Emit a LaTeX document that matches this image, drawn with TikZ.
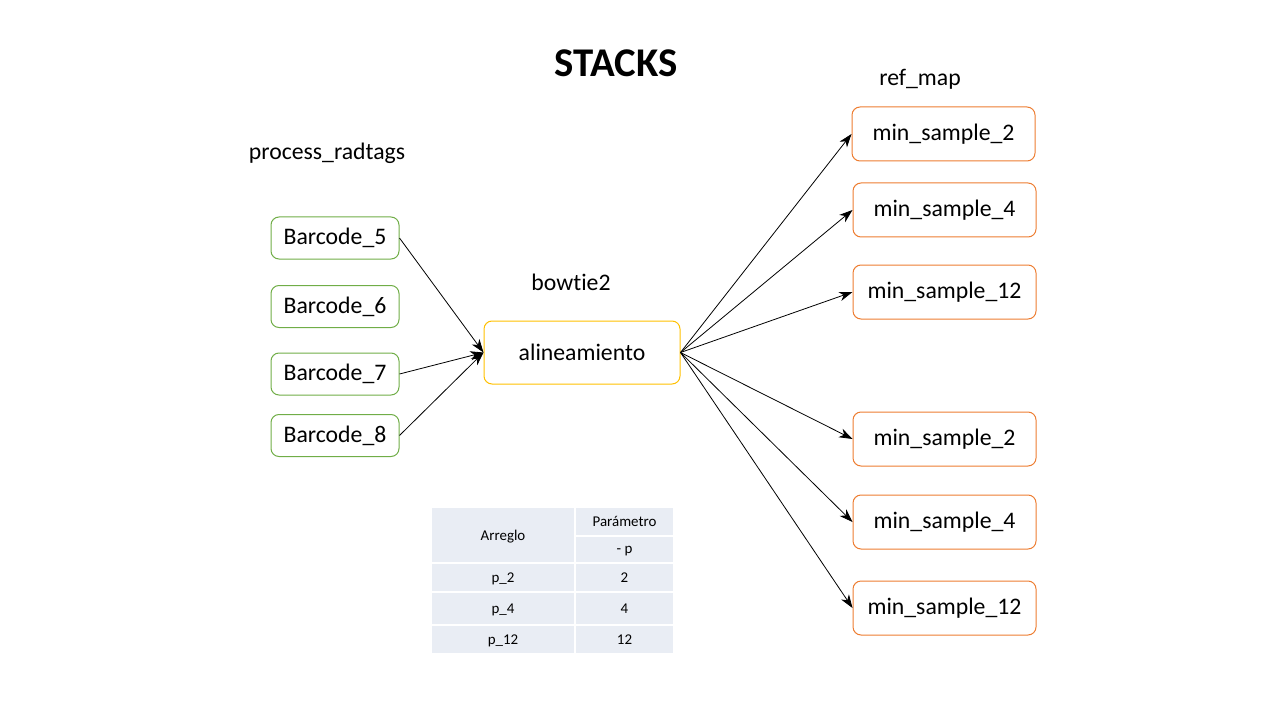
\documentclass[tikz,border=0pt]{standalone}
\usepackage{fontspec}
\setmainfont{Carlito}[Ligatures={NoCommon}]
\usetikzlibrary{arrows.meta}

\definecolor{boxgreen}{RGB}{112,173,71}
\definecolor{boxorange}{RGB}{237,125,49}
\definecolor{boxyellow}{RGB}{255,192,0}
\definecolor{cellfill}{RGB}{233,237,244}

\tikzset{
  barcode/.style = {draw=boxgreen, line width=0.75pt, rounded corners=6pt,
    minimum width=96pt, minimum height=31.5pt, inner sep=0pt, font=\fontsize{17.8}{20}\selectfont},
  aligner/.style = {draw=boxyellow, line width=0.75pt, rounded corners=6pt,
    minimum width=147pt, minimum height=47.25pt, inner sep=0pt, font=\fontsize{17.8}{20}\selectfont},
  sample/.style = {draw=boxorange, line width=0.75pt, rounded corners=6pt,
    minimum width=137.25pt, minimum height=40.5pt, inner sep=0pt, font=\fontsize{17.8}{20}\selectfont},
  title/.style = {font=\fontsize{17.8}{20}\selectfont},
  cell/.style = {fill=cellfill, inner sep=0pt, text depth=0pt, font=\fontsize{11.2}{13}\selectfont},
  link/.style = {-{Stealth[length=10pt,width=7pt,inset=3pt]}, line width=0.6pt}
}

\begin{document}
\begin{tikzpicture}[x=0.75pt,y=-0.75pt]
%\draw[help lines] (0,0) grid (1280,720);
\useasboundingbox (0,0) rectangle (1280,720);

\node[font=\fontsize{30.6}{34}\selectfont\bfseries] (stacks) at (616,63) {STACKS};
\node[title] (radtags) at (327,153) {process\_radtags};
\node[title] (bowtie) at (571,282) {bowtie2};
\node[title] (refmap) at (920,79) {ref\_map};

\node[barcode] (b5) at (335,238) {Barcode\_5};
\node[barcode] (b6) at (335,306.5) {Barcode\_6};
\node[barcode] (b7) at (335,374) {Barcode\_7};
\node[barcode] (b8) at (335,435.5) {Barcode\_8};

\node[aligner] (align) at (582,352.5) {alineamiento};

\node[sample] (s2a) at (943.5,134) {min\_sample\_2};
\node[sample] (s4a) at (944.5,210) {min\_sample\_4};
\node[sample] (s12a) at (944.5,292) {min\_sample\_12};
\node[sample] (s2b) at (944.5,439) {min\_sample\_2};
\node[sample] (s4b) at (944.5,522) {min\_sample\_4};
\node[sample] (s12b) at (944.5,608) {min\_sample\_12};

\foreach \b in {b5,b7,b8}
  \draw[link] (\b.east) -- (align.west);
\foreach \s in {s2a,s4a,s12a,s2b,s4b,s12b}
  \draw[link] (align.east) -- (\s.west);

% table
\node[cell, minimum width=106.5pt, minimum height=40.5pt] (arreglo) at (503,535) {Arreglo};
\node[cell, minimum width=72.75pt, minimum height=20.25pt] (param) at (624.5,521.5) {Parámetro};
\node[cell, minimum width=72.75pt, minimum height=18.75pt] (opt) at (624.5,549.5) {- p};
\node[cell, minimum width=106.5pt, minimum height=20.25pt] (p2) at (503,577.5) {p\_2};
\node[cell, minimum width=72.75pt, minimum height=20.25pt] (v2) at (624.5,577.5) {2};
\node[cell, minimum width=106.5pt, minimum height=23.25pt] (p4) at (503,608.5) {p\_4};
\node[cell, minimum width=72.75pt, minimum height=23.25pt] (v4) at (624.5,608.5) {4};
\node[cell, minimum width=106.5pt, minimum height=20.25pt] (p12) at (503,639.5) {p\_12};
\node[cell, minimum width=72.75pt, minimum height=20.25pt] (v12) at (624.5,639.5) {12};
\end{tikzpicture}
\end{document}
